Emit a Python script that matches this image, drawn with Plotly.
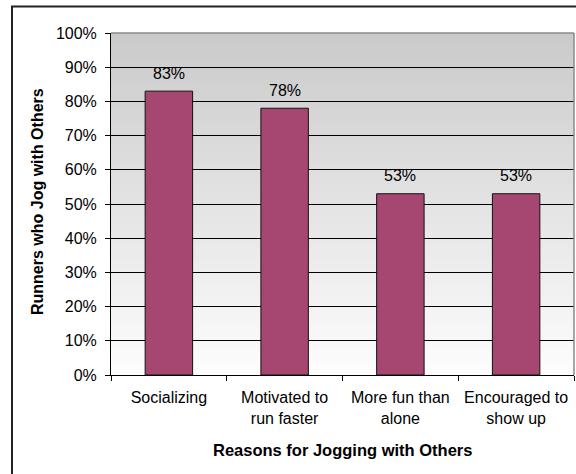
import plotly.graph_objects as go

categories = ["Socializing", "Motivated to<br>run faster", "More fun than<br>alone", "Encouraged to<br>show up"]
values = [0.83, 0.78, 0.53, 0.53]
labels = ["83%", "78%", "53%", "53%"]

FONT = "Arial, Liberation Sans, sans-serif"
FS = 16
W, H = 576, 474
L, R, T, B = 111, 2, 33, 99
pw = W - L - R
ph = H - T - B

fig = go.Figure()
fig.add_trace(go.Bar(
    x=categories, y=values,
    marker=dict(color="#A64772", line=dict(color="#111111", width=1)),
    width=0.41, hoverinfo="skip",
))

shapes = []
# gradient background (decoration): stacked bands, darker ones drawn later
n = 120
top = (202, 202, 202)
bot = (253, 253, 253)
for i in range(n):
    f = i / (n - 1)
    c = tuple(int(round(bot[k] + (top[k] - bot[k]) * f)) for k in range(3))
    shapes.append(dict(type="rect", xref="paper", yref="paper", x0=0, x1=1,
                       y0=i / n, y1=1, layer="below",
                       fillcolor="rgb(%d,%d,%d)" % c, line=dict(width=0)))
# gray plot border top and right
shapes.append(dict(type="line", xref="paper", yref="paper", x0=0, x1=1, y0=1, y1=1,
                   line=dict(color="#8a8a8a", width=1.5), layer="above"))
shapes.append(dict(type="line", xref="paper", yref="paper", x0=1, x1=1, y0=0, y1=1,
                   line=dict(color="#8a8a8a", width=1.5), layer="above"))
# outer chart border
shapes.append(dict(type="rect", xref="paper", yref="paper",
                   x0=(12 - L) / pw, x1=(577 - L) / pw,
                   y0=(H - B - 490) / ph, y1=(H - B - 6.5) / ph,
                   line=dict(color="#222222", width=2), layer="above"))

annotations = []
for c, v, t in zip(categories, values, labels):
    annotations.append(dict(x=c, y=v, xref="x", yref="y", text=t, showarrow=False,
                            yanchor="middle", yshift=18,
                            font=dict(family=FONT, size=FS, color="black")))
annotations.append(dict(xref="paper", yref="paper", x=0.5, y=(H - B - 450) / ph,
                        text="<b>Reasons for Jogging with Others</b>", showarrow=False,
                        xanchor="center", yanchor="middle",
                        font=dict(family=FONT, size=16.5, color="black")))
annotations.append(dict(xref="paper", yref="paper", x=(38 - L) / pw, y=(H - B - 202) / ph,
                        text="<b>Runners who Jog with Others</b>", showarrow=False,
                        textangle=-90, xanchor="center", yanchor="middle",
                        font=dict(family=FONT, size=16, color="black")))

fig.update_layout(
    width=W, height=H,
    margin=dict(l=L, r=R, t=T, b=B, autoexpand=False),
    paper_bgcolor="white", plot_bgcolor="white",
    showlegend=False, bargap=0.59,
    shapes=shapes, annotations=annotations,
    font=dict(family=FONT, size=FS, color="black"),
    xaxis=dict(type="category", tickson="boundaries", ticks="outside", ticklen=5,
               tickcolor="black", showline=True, linecolor="black", linewidth=1,
               showgrid=False, tickfont=dict(family=FONT, size=FS, color="black"),
               ticklabelstandoff=8, fixedrange=True),
    yaxis=dict(range=[0, 1], dtick=0.1, tickformat=".0%", ticks="outside", ticklen=5,
               tickcolor="black", showline=True, linecolor="black", linewidth=1,
               showgrid=True, gridcolor="black", gridwidth=1, zeroline=False,
               tickfont=dict(family=FONT, size=FS, color="black"),
               ticklabelstandoff=5, fixedrange=True),
)

fig.write_html("out.html", config={"displayModeBar": False},
               post_script="document.body.style.margin='0';document.body.style.overflow='hidden';")
